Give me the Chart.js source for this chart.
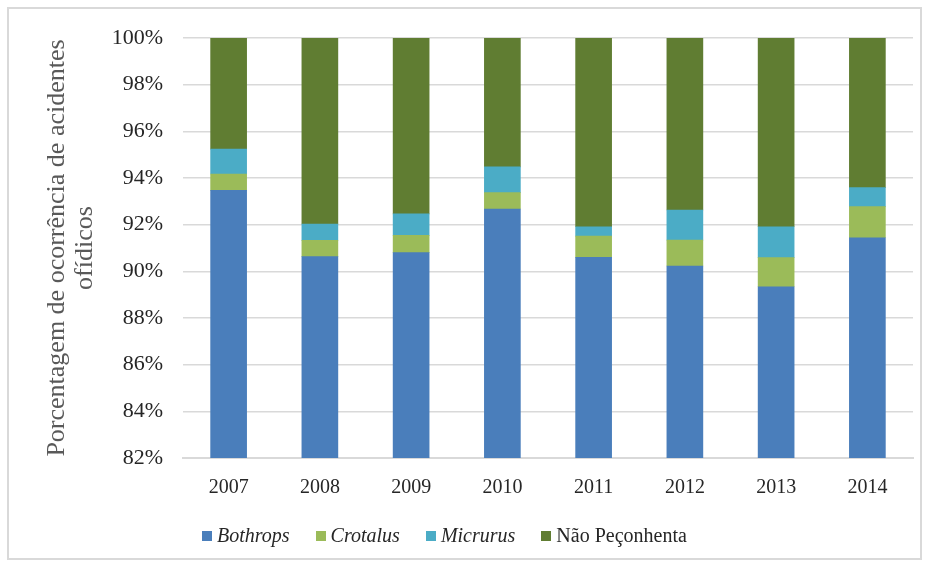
<!DOCTYPE html>
<html>
<head>
<meta charset="utf-8">
<script src="https://cdn.jsdelivr.net/npm/chart.js@4"></script>
<style>
  html, body { margin: 0; padding: 0; background: #fff; }
  #wrap { position: relative; width: 929px; height: 565px; }
  #frame { position: absolute; left: 7px; top: 7px; width: 911px; height: 549px; border: 2px solid #d9d9d9; }
  #chart { position: absolute; left: 0; top: 0; }
  #legend { position: absolute; left: 202px; top: 524px; font-family: "Liberation Serif", "Times New Roman", serif; font-size: 20px; color: #262626; white-space: nowrap; }
  #legend span.item { display: inline-block; margin-right: 26px; }
  #legend span.box { display: inline-block; width: 10px; height: 10px; margin-right: 5px; vertical-align: 1px; }
</style>
</head>
<body>
<div id="wrap">
  <div id="frame"></div>
  <canvas id="chart" width="929" height="565"></canvas>
  <div id="legend"></div>
</div>
<script>
const years = ['2007', '2008', '2009', '2010', '2011', '2012', '2013', '2014'];
const bothrops = [93.47, 90.63, 90.80, 92.67, 90.60, 90.23, 89.34, 91.44];
const crotalus = [0.70, 0.70, 0.74, 0.70, 0.91, 1.11, 1.25, 1.33];
const micrurus = [1.07, 0.70, 0.92, 1.11, 0.40, 1.29, 1.32, 0.82];
const naoPeconhenta = [4.76, 7.97, 7.54, 5.52, 8.09, 7.37, 8.09, 6.41];

const seriesNames = ['Bothrops', 'Crotalus', 'Micrurus', 'Não Peçonhenta'];
const seriesItalic = [true, true, true, false];
const seriesColors = ['#4a7ebb', '#9bbb59', '#4bacc6', '#607d32'];
const seriesData = [bothrops, crotalus, micrurus, naoPeconhenta];

const yTitle = ['Porcentagem de ocorrência de acidentes', 'ofídicos'];

const ctx = document.getElementById('chart').getContext('2d');
const chart = new Chart(ctx, {
    type: 'bar',
    data: {
        labels: years,
        datasets: seriesNames.map((name, i) => ({
            label: name,
            data: seriesData[i],
            backgroundColor: seriesColors[i],
            borderWidth: 0,
            barThickness: 36
        }))
    },
    options: {
        responsive: false,
        animation: false,
        layout: {
            padding: { left: 0, right: 16, top: 38, bottom: 0 }
        },
        plugins: {
            legend: { display: false },
            tooltip: { enabled: false }
        },
        scales: {
            x: {
                stacked: true,
                grid: { display: false, drawTicks: false },
                border: { display: true, color: '#d9d9d9', width: 2 },
                ticks: {
                    color: '#262626',
                    padding: 18,
                    font: { family: '"Liberation Serif", "Times New Roman", serif', size: 20 }
                },
                afterFit: function (scale) { scale.height = 107; }
            },
            y: {
                stacked: true,
                min: 82,
                max: 100,
                grid: { color: '#d9d9d9', lineWidth: 1.5, drawTicks: false },
                border: { display: false },
                ticks: {
                    stepSize: 2,
                    color: '#262626',
                    padding: 20,
                    font: { family: '"Liberation Serif", "Times New Roman", serif', size: 22 },
                    callback: function (v) { return v + '%'; }
                },
                title: {
                    display: true,
                    text: yTitle,
                    color: '#595959',
                    padding: { top: 44, bottom: 0 },
                    font: { family: '"Liberation Serif", "Times New Roman", serif', size: 26, lineHeight: 1.05 }
                },
                afterFit: function (scale) { scale.width = 183; }
            }
        }
    }
});

// html legend, so the genus names can be italic
const legendEl = document.getElementById('legend');
seriesNames.forEach((name, i) => {
    const item = document.createElement('span');
    item.className = 'item';
    const box = document.createElement('span');
    box.className = 'box';
    box.style.background = seriesColors[i];
    const txt = document.createElement('span');
    txt.textContent = name;
    if (seriesItalic[i]) txt.style.fontStyle = 'italic';
    item.appendChild(box);
    item.appendChild(txt);
    legendEl.appendChild(item);
});
</script>
</body>
</html>
